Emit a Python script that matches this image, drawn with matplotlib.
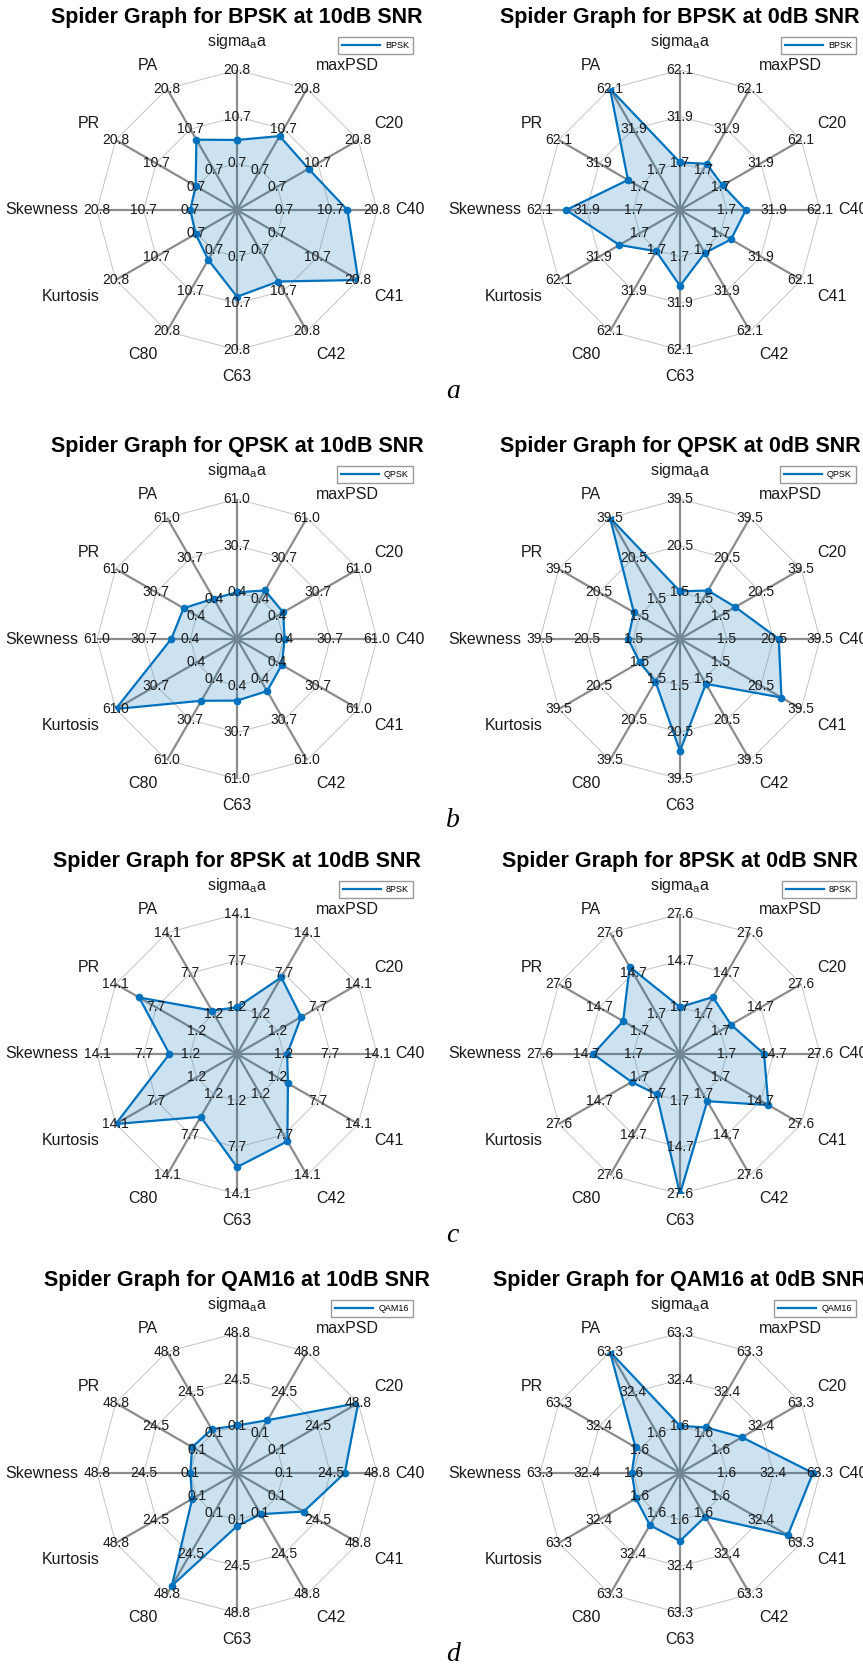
import numpy as np
import matplotlib
matplotlib.use("Agg")
import matplotlib.pyplot as plt
from matplotlib.lines import Line2D

plt.rcParams['font.family'] = ['Liberation Sans', 'DejaVu Sans']
plt.rcParams['mathtext.fontset'] = 'custom'
plt.rcParams['mathtext.rm'] = 'Liberation Sans'
plt.rcParams['mathtext.default'] = 'regular'

# axis names, clockwise from the top
features = ['sigma$_a$a', 'maxPSD', 'C20', 'C40', 'C41', 'C42', 'C63', 'C80',
            'Kurtosis', 'Skewness', 'PR', 'PA']

mods = ['BPSK', 'BPSK', 'QPSK', 'QPSK', '8PSK', '8PSK', 'QAM16', 'QAM16']
snrs = ['10dB', '0dB', '10dB', '0dB', '10dB', '0dB', '10dB', '0dB']

# shared axis limits of every chart (min, max)
limits = [(0.66, 20.78), (1.70, 62.10), (0.40, 61.00), (1.50, 39.50),
          (1.22, 14.12), (1.72, 27.62), (0.14, 48.82), (1.60, 63.26)]

bpsk_10 = [5.7, 9.0, 8.4, 14.4, 20.78, 8.4, 9.3, 3.0, 0.9, 0.66, 0.9, 8.1]
bpsk_0 = [2.3, 6.0, 3.3, 14.1, 9.6, 3.6, 20.6, 2.3, 16.8, 45.1, 10.4, 62.1]
qpsk_10 = [0.4, 6.5, 4.7, 1.0, 3.7, 9.2, 10.1, 16.4, 61.0, 12.8, 10.1, 0.4]
qpsk_0 = [1.9, 5.3, 8.5, 22.7, 30.2, 3.6, 28.1, 2.5, 1.5, 3.6, 4.2, 39.5]
psk8_10 = [1.22, 7.0, 5.0, 1.7, 2.9, 8.7, 10.4, 4.8, 14.12, 4.1, 10.4, 1.7]
psk8_0 = [1.8, 7.0, 5.1, 12.1, 17.1, 3.9, 27.62, 1.72, 4.3, 12.9, 7.0, 16.7]
qam_10 = [0.6, 7.6, 48.82, 32.0, 16.0, 0.6, 3.5, 43.7, 2.8, 0.14, 2.8, 2.1]
qam_0 = [1.9, 5.5, 18.0, 58.6, 53.0, 4.1, 15.7, 10.6, 4.4, 2.6, 4.7, 63.26]

series = [bpsk_10, bpsk_0, qpsk_10, qpsk_0, psk8_10, psk8_0, qam_10, qam_0]
letters = ['a', 'b', 'c', 'd']

W, H = 863, 1667
blue = '#0072BD'
R = 140                      # outer ring radius in px
col_x = [237, 680]
row_y = [210, 639, 1054, 1473]

fig = plt.figure(figsize=(W / 100, H / 100), dpi=100)

n = len(features)
theta = np.arange(n) * 2 * np.pi / n
theta_c = np.r_[theta, theta[0]]

for k in range(8):
    cx = col_x[k % 2]
    cy = row_y[k // 2]
    ax = fig.add_axes([(cx - R) / W, 1 - (cy + R) / H, 2 * R / W, 2 * R / H],
                      projection='polar')
    ax.set_theta_offset(np.pi / 2)
    ax.set_theta_direction(-1)
    ax.set_ylim(0, 3)
    ax.axis('off')

    lo, hi = limits[k]
    # rings
    for ring in [1, 2, 3]:
        ax.plot(theta_c, [ring] * (n + 1), color='#c4c4c4', lw=0.7, zorder=1)
    # spokes
    for t in theta:
        ax.plot([t, t], [0, 3], color='#8c8c8c', lw=1.6, zorder=2)
    ax.plot([0], [0], 'o', color='#8c8c8c', ms=5, zorder=2)

    # data
    vals = np.array(series[k])
    r = 1 + 2 * (vals - lo) / (hi - lo)
    r_c = np.r_[r, r[0]]
    ax.fill(theta_c, r_c, color=blue, alpha=0.2, lw=0, zorder=3)
    ax.plot(theta_c, r_c, color=blue, lw=1.6, marker='o', ms=4.5, zorder=4)

    # tick values on each spoke
    ticks = np.linspace(lo, hi, 3)
    for t in theta:
        for ring, tv in zip([1, 2, 3], ticks):
            ax.text(t, ring, '%.1f' % tv, fontsize=10, ha='center',
                    va='center', color='#1a1a1a', zorder=5)

    # axis labels
    for t, name in zip(theta, features):
        ang = np.pi / 2 - t
        c, s = np.cos(ang), np.sin(ang)
        ha = 'left' if c > 1e-6 else ('right' if c < -1e-6 else 'center')
        va = 'bottom' if s > 1e-6 else ('top' if s < -1e-6 else 'center')
        ax.text(t, 3.4, name, fontsize=11.5, ha=ha, va=va, color='#1a1a1a')

    ax.text(0.5, 0.5 + 187 / (2 * R),
            'Spider Graph for %s at %s SNR' % (mods[k], snrs[k]),
            transform=ax.transAxes, ha='center', va='baseline',
            fontsize=15.5, fontweight='bold')

    ax.legend(handles=[Line2D([], [], color=blue, lw=1.6)], labels=[mods[k]],
              loc='upper right', bbox_to_anchor=(0.5 + 176 / (2 * R), 0.5 + 173 / (2 * R)),
              fontsize=6.5, frameon=True, fancybox=False, edgecolor='#9a9a9a',
              framealpha=1, handlelength=4.2, handletextpad=0.6,
              borderpad=0.45, borderaxespad=0)

for i, let in enumerate(letters):
    fig.text(446 / W, 1 - (row_y[i] + 188) / H, let, fontsize=20,
             family='Liberation Serif', style='italic', ha='left', va='baseline')

fig.savefig('out.png', dpi=100)
